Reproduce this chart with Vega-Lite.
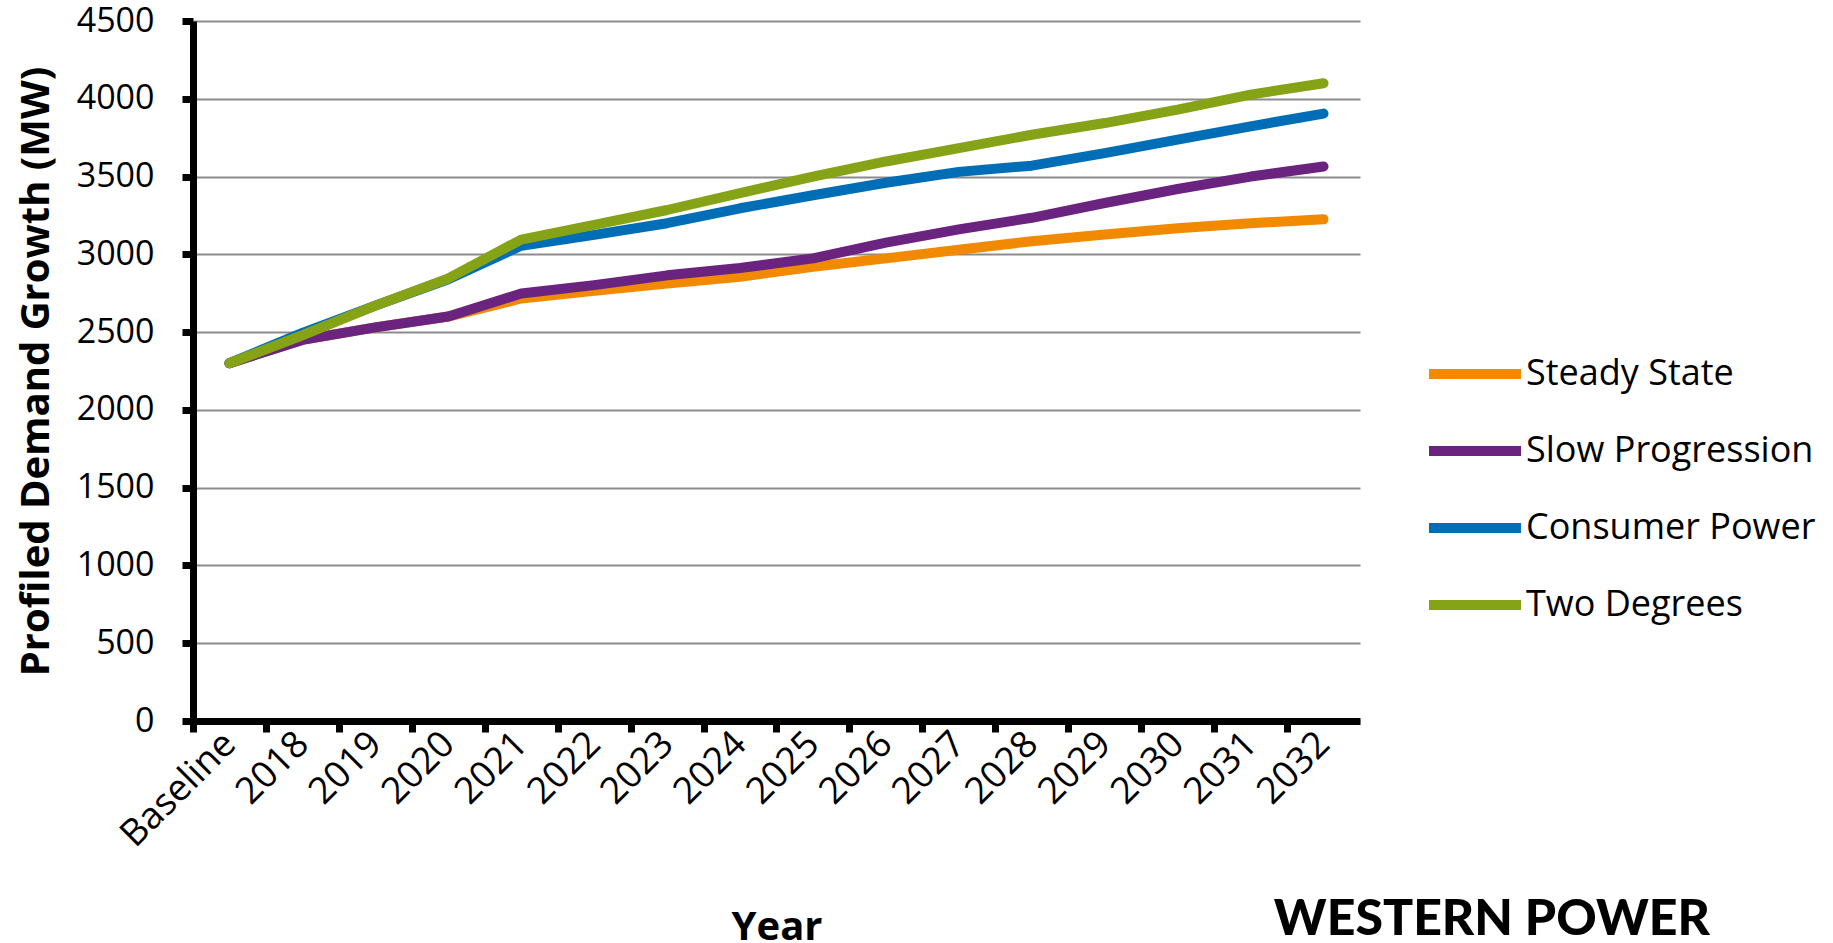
{
  "$schema": "https://vega.github.io/schema/vega-lite/v6.json",
  "width": 1167,
  "height": 700,
  "autosize": {"type": "none"},
  "padding": {"left": 193, "top": 21, "right": 473, "bottom": 222},
  "background": "white",
  "config": {"view": {"stroke": null}, "font": "Open Sans"},
  "title": {
    "text": "WESTERN POWER",
    "subtitle": "DISTRIBUTION",
    "orient": "bottom",
    "anchor": "end",
    "frame": "group",
    "font": "Lato",
    "fontSize": 50,
    "fontWeight": 900,
    "color": "black",
    "subtitleFont": "Lato",
    "subtitleFontSize": 50,
    "subtitleFontWeight": 900,
    "subtitleColor": "black",
    "subtitlePadding": -3,
    "dx": 350,
    "dy": -56
  },
  "data": {
    "values": [
      {"year": "Baseline", "scenario": "Steady State", "value": 2300},
      {"year": "2018", "scenario": "Steady State", "value": 2450},
      {"year": "2019", "scenario": "Steady State", "value": 2530},
      {"year": "2020", "scenario": "Steady State", "value": 2600},
      {"year": "2021", "scenario": "Steady State", "value": 2716},
      {"year": "2022", "scenario": "Steady State", "value": 2765},
      {"year": "2023", "scenario": "Steady State", "value": 2812},
      {"year": "2024", "scenario": "Steady State", "value": 2856},
      {"year": "2025", "scenario": "Steady State", "value": 2920},
      {"year": "2026", "scenario": "Steady State", "value": 2974},
      {"year": "2027", "scenario": "Steady State", "value": 3030},
      {"year": "2028", "scenario": "Steady State", "value": 3084},
      {"year": "2029", "scenario": "Steady State", "value": 3127},
      {"year": "2030", "scenario": "Steady State", "value": 3167},
      {"year": "2031", "scenario": "Steady State", "value": 3200},
      {"year": "2032", "scenario": "Steady State", "value": 3225},
      {"year": "Baseline", "scenario": "Slow Progression", "value": 2300},
      {"year": "2018", "scenario": "Slow Progression", "value": 2450},
      {"year": "2019", "scenario": "Slow Progression", "value": 2530},
      {"year": "2020", "scenario": "Slow Progression", "value": 2600},
      {"year": "2021", "scenario": "Slow Progression", "value": 2748},
      {"year": "2022", "scenario": "Slow Progression", "value": 2802},
      {"year": "2023", "scenario": "Slow Progression", "value": 2865},
      {"year": "2024", "scenario": "Slow Progression", "value": 2912},
      {"year": "2025", "scenario": "Slow Progression", "value": 2974},
      {"year": "2026", "scenario": "Slow Progression", "value": 3075},
      {"year": "2027", "scenario": "Slow Progression", "value": 3160},
      {"year": "2028", "scenario": "Slow Progression", "value": 3235},
      {"year": "2029", "scenario": "Slow Progression", "value": 3330},
      {"year": "2030", "scenario": "Slow Progression", "value": 3420},
      {"year": "2031", "scenario": "Slow Progression", "value": 3500},
      {"year": "2032", "scenario": "Slow Progression", "value": 3565},
      {"year": "Baseline", "scenario": "Consumer Power", "value": 2300},
      {"year": "2018", "scenario": "Consumer Power", "value": 2495},
      {"year": "2019", "scenario": "Consumer Power", "value": 2670},
      {"year": "2020", "scenario": "Consumer Power", "value": 2840},
      {"year": "2021", "scenario": "Consumer Power", "value": 3055},
      {"year": "2022", "scenario": "Consumer Power", "value": 3125},
      {"year": "2023", "scenario": "Consumer Power", "value": 3200},
      {"year": "2024", "scenario": "Consumer Power", "value": 3296},
      {"year": "2025", "scenario": "Consumer Power", "value": 3380},
      {"year": "2026", "scenario": "Consumer Power", "value": 3460},
      {"year": "2027", "scenario": "Consumer Power", "value": 3530},
      {"year": "2028", "scenario": "Consumer Power", "value": 3570},
      {"year": "2029", "scenario": "Consumer Power", "value": 3651},
      {"year": "2030", "scenario": "Consumer Power", "value": 3737},
      {"year": "2031", "scenario": "Consumer Power", "value": 3823},
      {"year": "2032", "scenario": "Consumer Power", "value": 3905},
      {"year": "Baseline", "scenario": "Two Degrees", "value": 2300},
      {"year": "2018", "scenario": "Two Degrees", "value": 2480},
      {"year": "2019", "scenario": "Two Degrees", "value": 2670},
      {"year": "2020", "scenario": "Two Degrees", "value": 2845},
      {"year": "2021", "scenario": "Two Degrees", "value": 3095},
      {"year": "2022", "scenario": "Two Degrees", "value": 3190},
      {"year": "2023", "scenario": "Two Degrees", "value": 3285},
      {"year": "2024", "scenario": "Two Degrees", "value": 3393},
      {"year": "2025", "scenario": "Two Degrees", "value": 3500},
      {"year": "2026", "scenario": "Two Degrees", "value": 3597},
      {"year": "2027", "scenario": "Two Degrees", "value": 3683},
      {"year": "2028", "scenario": "Two Degrees", "value": 3769},
      {"year": "2029", "scenario": "Two Degrees", "value": 3844},
      {"year": "2030", "scenario": "Two Degrees", "value": 3930},
      {"year": "2031", "scenario": "Two Degrees", "value": 4027},
      {"year": "2032", "scenario": "Two Degrees", "value": 4100}
    ]
  },
  "mark": {"type": "line", "strokeWidth": 10, "strokeCap": "round", "strokeJoin": "round"},
  "encoding": {
    "x": {
      "field": "year",
      "type": "ordinal",
      "sort": ["Baseline", "2018", "2019", "2020", "2021", "2022", "2023", "2024", "2025", "2026", "2027", "2028", "2029", "2030", "2031", "2032"],
      "scale": {"type": "point", "padding": 0.5},
      "axis": {
        "title": "Year",
        "labelAngle": -45,
        "labelAlign": "right",
        "labelBaseline": "middle",
        "tickOffset": -36.47,
        "labelOffset": 36.47,
        "domainColor": "black",
        "domainWidth": 7,
        "tickColor": "black",
        "tickWidth": 7,
        "tickSize": 11,
        "labelFont": "Open Sans",
        "labelFontSize": 37,
        "labelColor": "black",
        "labelPadding": 6,
        "titleFont": "Open Sans",
        "titleFontSize": 40,
        "titleFontWeight": "bold",
        "titleColor": "black",
        "titlePadding": 54,
        "grid": false
      }
    },
    "y": {
      "field": "value",
      "type": "quantitative",
      "scale": {"domain": [0, 4500], "nice": false},
      "axis": {
        "title": "Profiled Demand Growth (MW)",
        "values": [0, 500, 1000, 1500, 2000, 2500, 3000, 3500, 4000, 4500],
        "format": "d",
        "grid": true,
        "gridColor": "#8c8c8c",
        "gridWidth": 2,
        "domainColor": "black",
        "domainWidth": 7,
        "tickColor": "black",
        "tickWidth": 7,
        "tickSize": 11,
        "labelFont": "Open Sans",
        "labelFontSize": 34,
        "labelColor": "black",
        "labelPadding": 28,
        "titleFont": "Open Sans",
        "titleFontSize": 40,
        "titleFontWeight": "bold",
        "titleColor": "black",
        "titlePadding": 20
      }
    },
    "color": {
      "field": "scenario",
      "type": "nominal",
      "scale": {
        "domain": ["Steady State", "Slow Progression", "Consumer Power", "Two Degrees"],
        "range": ["#F18A00", "#6A237E", "#006EB6", "#86A317"]
      },
      "legend": {
        "orient": "none",
        "legendX": 1231,
        "legendY": 302,
        "title": null,
        "padding": 0,
        "symbolType": "stroke",
        "symbolStrokeWidth": 10,
        "symbolSize": 8464,
        "labelFont": "Open Sans",
        "labelFontSize": 36,
        "labelColor": "black",
        "labelLimit": 0,
        "labelOffset": 0,
        "rowPadding": 6
      }
    }
  }
}
